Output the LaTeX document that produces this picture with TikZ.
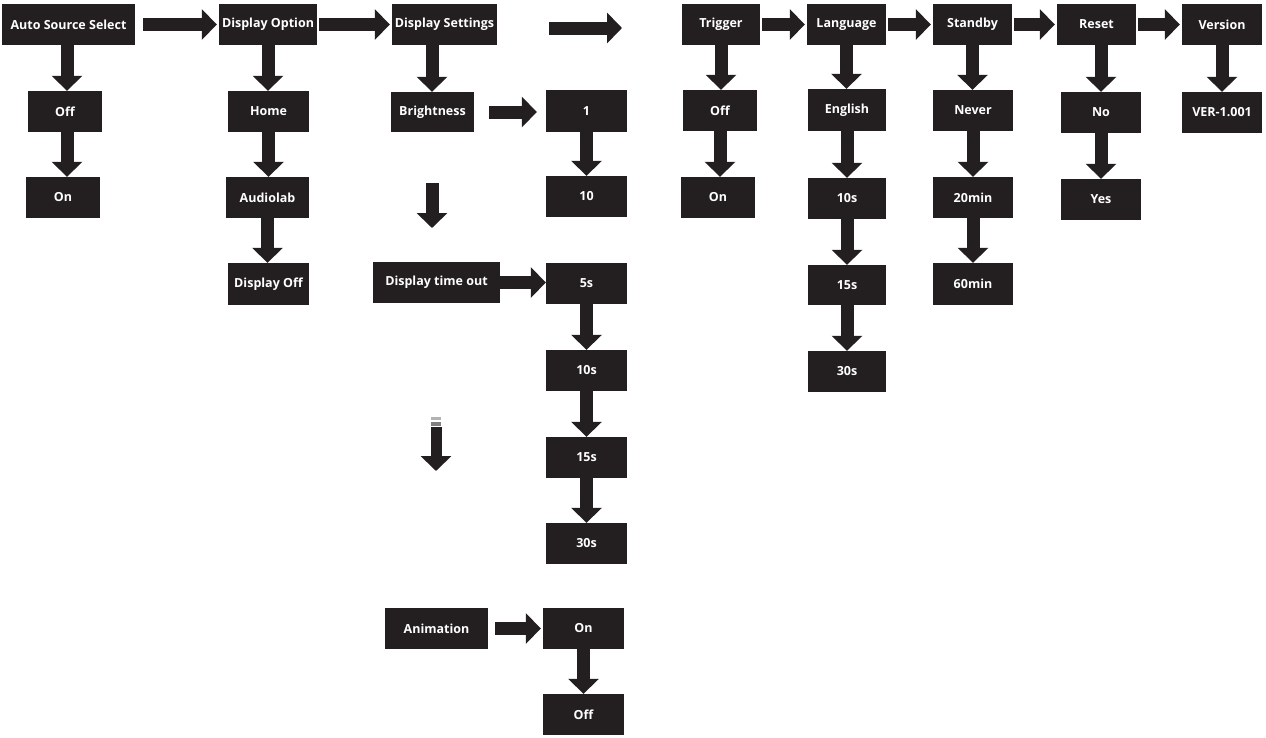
\documentclass[tikz,border=0pt]{standalone}
\usepackage{fontspec}
\setmainfont{Open Sans}
\usetikzlibrary{arrows.meta}
\definecolor{bk}{HTML}{231F20}
\newcommand\B[6]{\node[box,minimum width={(#4-#2)*1pt},minimum height={(#5-#3)*1pt}] (#1) at ({(#2+#4)/2},{(#3+#5)/2}) {#6};}
\tikzset{
 box/.style={fill=bk,draw=none,text=white,inner sep=0pt,font=\bfseries\fontsize{12.5}{14}\selectfont},
 barr/.style={draw=bk,line width=13pt,-{Triangle[width=30pt,length=15pt]},shorten >=0pt}
}
\begin{document}
\begin{tikzpicture}[x=1pt,y=-1pt]
\useasboundingbox (0,0) rectangle (1266,737);
% top row
\B{ass}{2}{4}{135}{45}{Auto Source Select}
\B{dop}{219}{4}{317}{45}{Display Option}
\B{dse}{392}{4}{497}{45}{Display Settings}
\B{trg}{682}{4}{760}{45}{Trigger}
\B{lng}{807}{4}{886}{45}{Language}
\B{stb}{933}{4}{1012}{45}{Standby}
\B{rst}{1057}{4}{1136}{45}{Reset}
\B{ver}{1182}{4}{1262}{45}{Version}
% col 1
\B{aoff}{28}{91}{102}{132}{Off}
\B{aon}{26}{177}{100}{218}{On}
% col 2
\B{home}{228}{91}{309}{132}{Home}
\B{alab}{226}{177}{309}{218}{Audiolab}
\B{doff}{228}{263}{309}{305}{Display Off}
% col 3
\B{bri}{391}{92}{474}{132}{Brightness}
\B{b1}{546}{90}{627}{132}{1}
\B{b10}{546}{176}{627}{217}{10}
\B{dto}{373}{262}{500}{303}{Display time out}
\B{t5}{546}{263}{627}{304}{5s}
\B{t10}{546}{350}{627}{391}{10s}
\B{t15}{546}{437}{627}{478}{15s}
\B{t30}{546}{523}{627}{564}{30s}
\B{ani}{385}{608}{488}{649}{Animation}
\B{aion}{543}{608}{624}{649}{On}
\B{aioff}{543}{694}{624}{735}{Off}
% trigger
\B{toff}{683}{90}{757}{131}{Off}
\B{ton}{681}{177}{755}{218}{On}
% language
\B{eng}{808}{89}{886}{131}{English}
\B{l10}{808}{178}{886}{219}{10s}
\B{l15}{808}{265}{886}{305}{15s}
\B{l30}{808}{351}{886}{392}{30s}
% standby
\B{nev}{933}{90}{1013}{131}{Never}
\B{m20}{933}{177}{1013}{218}{20min}
\B{m60}{933}{263}{1013}{305}{60min}
% reset
\B{no}{1061}{92}{1141}{133}{No}
\B{yes}{1061}{179}{1141}{220}{Yes}
% version
\B{vno}{1182}{92}{1262}{133}{VER-1.001}
% horizontal arrows
\draw[barr] ([xshift=8pt]ass.east) -- ([xshift=-2pt]dop.west);
\draw[barr] ([xshift=2pt]dop.east) -- ([xshift=-2pt]dse.west);
\coordinate (fa1) at (549,28); \coordinate (fa2) at (622,28);
\draw[barr] (fa1) -- (fa2);
\draw[barr] ([xshift=2pt]trg.east) -- ([xshift=-2pt]lng.west);
\draw[barr] ([xshift=2pt]lng.east) -- ([xshift=-2pt]stb.west);
\draw[barr] ([xshift=2pt]stb.east) -- ([xshift=-2pt]rst.west);
\draw[barr] ([xshift=2pt]rst.east) -- ([xshift=-2pt]ver.west);
\draw[barr] ([xshift=15pt]bri.east) -- ([xshift=-9pt]b1.west|-bri.east);
\draw[barr] (dto.east) -- (t5.west|-dto.east);
\draw[barr] ([xshift=7pt]ani.east) -- ([xshift=-2pt]aion.west|-ani.east);
% vertical arrows
\newcommand\V[2]{\draw[barr] (#1.south) -- (#1.south|-#2.north);}
\draw[barr] (67,45) -- (aoff.north-|67,0);
\draw[barr] (aoff.south-|67,0) -- (aon.north-|67,0);
\V{dop}{home}
\draw[barr] (home.south) -- (home.south|-alab.north);
\draw[barr] (alab.south) -- (alab.south|-doff.north);
\draw[barr] (dse.south-|432,0) -- (bri.north-|432,0);
\V{b1}{b10}
\V{t5}{t10}\V{t10}{t15}\V{t15}{t30}
\V{aion}{aioff}
\draw[barr] (trg.south-|721,0) -- (toff.north-|721,0);
\draw[barr] (toff.south) -- (toff.south|-ton.north);
\V{lng}{eng}\V{eng}{l10}\V{l10}{l15}\V{l15}{l30}
\V{stb}{nev}\V{nev}{m20}\V{m20}{m60}
\draw[barr] (rst.south-|1101,0) -- (no.north-|1101,0);
\V{no}{yes}
\draw[barr] (ver.south) -- (ver.south|-vno.north);
% free arrows
\coordinate (fb1) at (432,183); \coordinate (fb2) at (432,228);
\draw[barr] (fb1) -- (fb2);
\coordinate (fc1) at (436,427); \coordinate (fc2) at (436,471);
\draw[barr,line width=11pt] (fc1) -- (fc2);
\fill[gray!60] (431,417) rectangle (441,420);
\fill[gray] (431,422) rectangle (441,426);
\end{tikzpicture}
\end{document}
